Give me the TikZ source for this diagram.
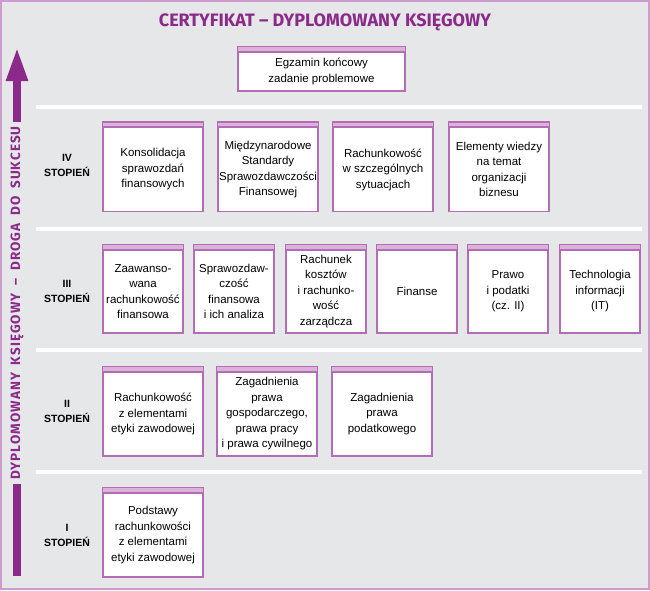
\documentclass[tikz,border=0pt]{standalone}
\usepackage{fontspec}
\setmainfont{Liberation Sans}
\newfontfamily\tytulfont{Fira Sans}
\newfontfamily\drogafont[LetterSpace=8, WordSpace=1.8]{Fira Sans}
\usetikzlibrary{arrows.meta}
\definecolor{fiolet}{HTML}{8B2A8B}
\definecolor{ramka}{HTML}{B46CB4}
\definecolor{pasek}{HTML}{D9B3D9}
\definecolor{tlo}{HTML}{E6E7E8}
\definecolor{obwod}{HTML}{CE9BCE}

\begin{document}
\begin{tikzpicture}[x=1pt, y=-1pt,
    every node/.style={font=\fontsize{11.5}{15.5}\selectfont},
    kurs/.style={draw=ramka, line width=1.2pt, fill=white, align=center, inner sep=0pt,
      minimum width=100pt, minimum height=84pt,
      append after command={\pgfextra{\draw[ramka, fill=pasek, line width=1.2pt]
        (\tikzlastnode.north west) rectangle ([yshift=5pt]\tikzlastnode.north east);}}},
    waski/.style={kurs, minimum width=80pt, minimum height=83pt},
    stopien/.style={align=center, font=\fontsize{10.5}{15}\selectfont\bfseries},
    separator/.style={white, line width=4pt}]
  \useasboundingbox (0,0) rectangle (650,590);
  \fill[tlo] (0,0) rectangle (650,590);
  \draw[obwod, line width=2pt] (1,1) rectangle (649,589);

  \node[text=fiolet, font=\tytulfont\fontsize{18}{19}\selectfont\bfseries] (tytul) at (325,22) {CERTYFIKAT – DYPLOMOWANY KSIĘGOWY};
  \node[kurs, minimum width=167pt, minimum height=39pt] (egzamin) at (321.5,71.5) {Egzamin końcowy\\zadanie problemowe};

  % poziomy
  \foreach \y in {107, 228.5, 350, 471.5}
    \draw[separator] (36,\y) -- (642,\y);

  % strzalka
  \coordinate (dol) at (17,576);
  \coordinate (gora) at (17,47);
  \draw[fiolet, line width=8pt, -{Triangle[length=34pt, width=20pt]}] (dol) -- (gora);
  \node[fill=tlo, rotate=90, inner xsep=4pt, inner ysep=2pt, text=fiolet, font=\drogafont\fontsize{13.5}{13.5}\selectfont\bfseries] (droga) at (17,303) {DYPLOMOWANY KSIĘGOWY – DROGA DO SUKCESU};

  \node[stopien] (st4) at (67,165) {IV\\STOPIEŃ};
  \node[stopien] (st3) at (67,291) {III\\STOPIEŃ};
  \node[stopien] (st2) at (67,411) {II\\STOPIEŃ};
  \node[stopien] (st1) at (67,535) {I\\STOPIEŃ};

  % IV stopien
  \node[kurs] (k41) at (153,169.5) {Konsolidacja\\sprawozdań\\finansowych};
  \node[kurs] (k42) at (268,169.5) {Międzynarodowe\\Standardy\\Sprawozdawczości\\Finansowej};
  \node[kurs] (k43) at (383,169.5) {Rachunkowość\\w szczególnych\\sytuacjach};
  \node[kurs] (k44) at (499,169.5) {Elementy wiedzy\\na temat\\organizacji\\biznesu};

  % III stopien
  \node[waski] (k31) at (143,291.5) {Zaawanso-\\wana\\rachunkowość\\finansowa};
  \node[waski] (k32) at (234,291.5) {Sprawozdaw-\\czość\\finansowa\\i ich analiza};
  \node[waski] (k33) at (326,291.5) {Rachunek\\kosztów\\i rachunko-\\wość\\zarządcza};
  \node[waski] (k34) at (417,291.5) {Finanse};
  \node[waski] (k35) at (508,291.5) {Prawo\\i podatki\\(cz. II)};
  \node[waski] (k36) at (600,291.5) {Technologia\\informacji\\(IT)};

  % II stopien
  \node[kurs] (k21) at (153,414) {Rachunkowość\\z elementami\\etyki zawodowej};
  \node[kurs] (k22) at (267,414) {Zagadnienia\\prawa\\gospodarczego,\\prawa pracy\\i prawa cywilnego};
  \node[kurs] (k23) at (382,414) {Zagadnienia\\prawa\\podatkowego};

  % I stopien
  \node[kurs] (k11) at (153,535) {Podstawy\\rachunkowości\\z elementami\\etyki zawodowej};
\end{tikzpicture}
\end{document}
